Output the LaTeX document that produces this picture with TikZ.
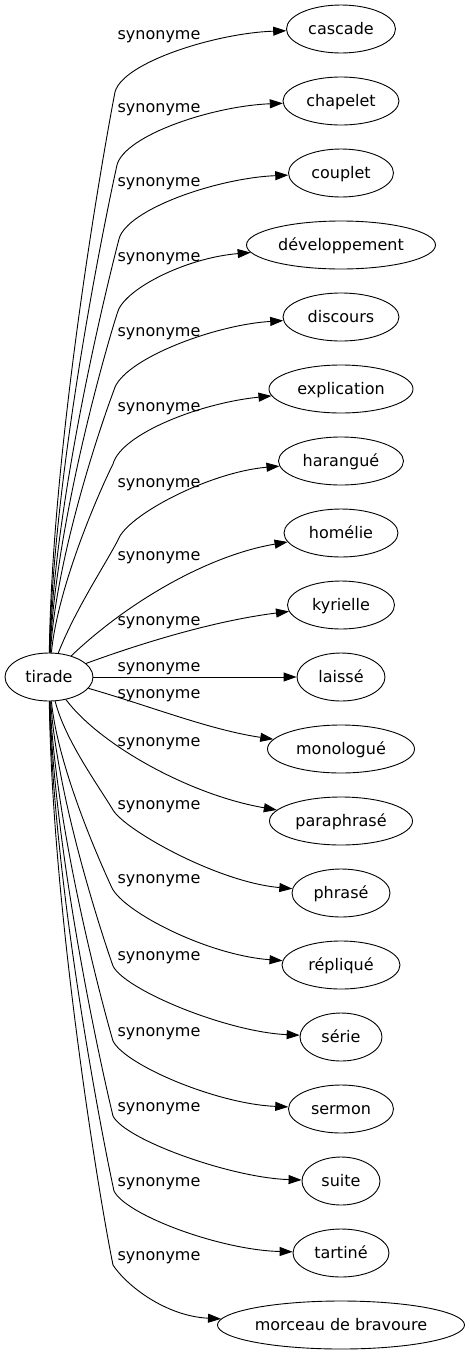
\documentclass[tikz,border=0pt]{standalone}
\usepackage{fontspec}
\setmainfont{DejaVu Sans}
\usetikzlibrary{shapes.geometric,arrows.meta}
\tikzset{
  word/.style={draw, ellipse, line width=0.9pt, inner sep=0pt, minimum height=48pt,
    font=\fontsize{16}{19}\selectfont, text height=12pt, text depth=1pt},
  lbl/.style={inner sep=0pt, font=\fontsize{16}{19}\selectfont, text height=12pt, text depth=1pt},
  edge/.style={draw, line width=0.9pt, -{Triangle[length=13pt,width=9pt]}}
}
\begin{document}
\begin{tikzpicture}[x=1pt,y=-1pt]
\useasboundingbox (0,0) rectangle (470,1355);
\node[word, minimum width=88pt] (tirade) at (49,677) {tirade};
\node[word, minimum width=109pt] (cascade) at (341,29) {cascade};
\node[word, minimum width=116pt] (chapelet) at (341,101) {chapelet};
\node[word, minimum width=105pt] (couplet) at (341,173) {couplet};
\node[word, minimum width=189pt] (developpement) at (341,245) {développement};
\node[word, minimum width=116pt] (discours) at (341,317) {discours};
\node[word, minimum width=144pt] (explication) at (341,389) {explication};
\node[word, minimum width=125pt] (harangue) at (341,461) {harangué};
\node[word, minimum width=114pt] (homelie) at (341,533) {homélie};
\node[word, minimum width=107pt] (kyrielle) at (341,605) {kyrielle};
\node[word, minimum width=88pt] (laisse) at (341,677) {laissé};
\node[word, minimum width=147pt] (monologue) at (341,749) {monologué};
\node[word, minimum width=143pt] (paraphrase) at (341,821) {paraphrasé};
\node[word, minimum width=98pt] (phrase) at (341,893) {phrasé};
\node[word, minimum width=118pt] (replique) at (341,965) {répliqué};
\node[word, minimum width=82pt] (serie) at (341,1037) {série};
\node[word, minimum width=105pt] (sermon) at (341,1109) {sermon};
\node[word, minimum width=78pt] (suite) at (341,1181) {suite};
\node[word, minimum width=96pt] (tartine) at (341,1253) {tartiné};
\node[word, minimum width=247pt] (morceau) at (341,1325) {morceau de bravoure};
% labels
\node[lbl] (l1) at (159,34) {synonyme};
\node[lbl] (l2) at (159,107) {synonyme};
\node[lbl] (l3) at (159,181) {synonyme};
\node[lbl] (l4) at (159,256) {synonyme};
\node[lbl] (l5) at (159,331) {synonyme};
\node[lbl] (l6) at (159,406) {synonyme};
\node[lbl] (l7) at (159,482) {synonyme};
\node[lbl] (l8) at (159,555) {synonyme};
\node[lbl] (l9) at (159,620) {synonyme};
\node[lbl] (l10) at (159,666) {synonyme};
\node[lbl] (l11) at (159,693) {synonyme};
\node[lbl] (l12) at (159,741) {synonyme};
\node[lbl] (l13) at (159,804) {synonyme};
\node[lbl] (l14) at (159,878) {synonyme};
\node[lbl] (l15) at (159,955) {synonyme};
\node[lbl] (l16) at (159,1031) {synonyme};
\node[lbl] (l17) at (159,1106) {synonyme};
\node[lbl] (l18) at (159,1181) {synonyme};
\node[lbl] (l19) at (159,1255) {synonyme};
% edges
\draw[edge] (tirade) .. controls (52,451) and (100,170) .. (115,92) .. controls (123,62) and (217,33) .. (cascade);
\draw[edge] (tirade) .. controls (53,477) and (102,233) .. (117,165) .. controls (125,135) and (213,106) .. (chapelet);
\draw[edge] (tirade) .. controls (54,504) and (104,297) .. (119,239) .. controls (127,209) and (218,178) .. (couplet);
\draw[edge] (tirade) .. controls (55,531) and (102,361) .. (117,314) .. controls (122,290) and (185,258) .. (developpement);
\draw[edge] (tirade) .. controls (56,558) and (100,427) .. (114,390) .. controls (122,360) and (213,325) .. (discours);
\draw[edge] (tirade) .. controls (58,585) and (100,490) .. (113,464) .. controls (121,434) and (200,403) .. (explication);
\draw[edge] (tirade) .. controls (75,610) and (105,565) .. (118,540) .. controls (127,515) and (210,472) .. (harangue);
\draw[edge] (tirade) .. controls (130,600) and (210,555) .. (homelie);
\draw[edge] (tirade) .. controls (150,640) and (220,620) .. (kyrielle);
\draw[edge] (tirade) -- (laisse);
\draw[edge] (tirade) .. controls (150,706) and (210,730) .. (monologue);
\draw[edge] (tirade) .. controls (100,745) and (190,795) .. (paraphrase);
\draw[edge] (tirade) .. controls (65,740) and (98,785) .. (113,810) .. controls (125,830) and (217,882) .. (phrase);
\draw[edge] (tirade) .. controls (58,768) and (100,862) .. (112,888) .. controls (124,912) and (207,955) .. (replique);
\draw[edge] (tirade) .. controls (57,796) and (100,929) .. (113,966) .. controls (125,990) and (227,1032) .. (serie);
\draw[edge] (tirade) .. controls (55,823) and (99,993) .. (113,1041) .. controls (125,1065) and (217,1104) .. (sermon);
\draw[edge] (tirade) .. controls (54,850) and (99,1058) .. (113,1116) .. controls (125,1140) and (232,1178) .. (suite);
\draw[edge] (tirade) .. controls (53,877) and (99,1122) .. (114,1191) .. controls (126,1215) and (220,1250) .. (tartine);
\draw[edge] (tirade) .. controls (52,904) and (97,1186) .. (113,1265) .. controls (126,1285) and (165,1316) .. (morceau);
\end{tikzpicture}
\end{document}
